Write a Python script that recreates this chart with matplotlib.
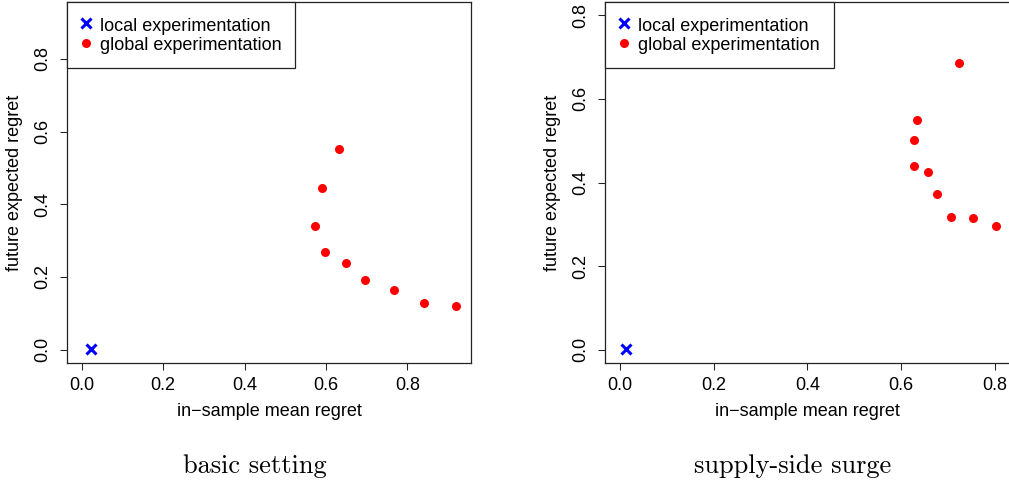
import numpy as np
import matplotlib
matplotlib.use("Agg")
import matplotlib.pyplot as plt

plt.rcParams['font.family'] = ['Liberation Sans', 'DejaVu Sans']

# basic setting
basic_local_x = [0.024]
basic_local_y = [0.003]
basic_global_x = [0.632, 0.590, 0.572, 0.598, 0.650, 0.697, 0.767, 0.840, 0.919]
basic_global_y = [0.553, 0.446, 0.341, 0.270, 0.239, 0.193, 0.165, 0.129, 0.119]

# supply-side surge
surge_local_x = [0.012]
surge_local_y = [0.002]
surge_global_x = [0.724, 0.635, 0.629, 0.627, 0.657, 0.677, 0.708, 0.754, 0.803]
surge_global_y = [0.686, 0.550, 0.502, 0.440, 0.425, 0.372, 0.317, 0.314, 0.295]

ticks = [0.0, 0.2, 0.4, 0.6, 0.8]
tick_labels = ["0.0", "0.2", "0.4", "0.6", "0.8"]

W, H = 1009, 484
fig = plt.figure(figsize=(W / 100, H / 100), dpi=100)


def panel(left_px, xmax, ymax, lx, ly, gx, gy, title, title_x):
    ax = fig.add_axes([left_px / W, 1 - 363 / H, 404.5 / W, 361 / H])
    # R-style 4% padding around [0, max]
    ax.set_xlim(-0.04 * xmax, 1.04 * xmax)
    ax.set_ylim(-0.04 * ymax, 1.04 * ymax)
    ax.plot(lx, ly, linestyle='none', marker='x', color='#0000FF',
            markersize=7, markeredgewidth=2.2, label='local experimentation')
    ax.plot(gx, gy, linestyle='none', marker='o', color='#FF0000',
            markersize=6.5, markeredgewidth=0, label='global experimentation')
    ax.set_xticks(ticks)
    ax.set_xticklabels(tick_labels)
    ax.set_yticks(ticks)
    ax.set_yticklabels(tick_labels, rotation=90, va='center')
    ax.tick_params(direction='out', length=5, width=0.75, labelsize=13, color='#222222')
    ax.tick_params(axis='x', pad=5)
    ax.tick_params(axis='y', pad=6)
    for s in ax.spines.values():
        s.set_linewidth(0.9)
        s.set_color('#222222')
    ax.set_xlabel('in\u2212sample mean regret', fontsize=13, va='center')
    ax.xaxis.set_label_coords(0.5, -0.133)
    ax.set_ylabel('future expected regret', fontsize=13, va='center')
    ax.yaxis.set_label_coords(-0.130, 0.5)
    leg = ax.legend(loc='upper left', borderaxespad=0, fancybox=False,
                    framealpha=1, edgecolor='#222222', fontsize=13,
                    handlelength=0.6, handleheight=1.2, handletextpad=0.5,
                    borderpad=0.75, labelspacing=0.0, numpoints=1)
    leg.get_frame().set_linewidth(0.9)
    fig.text(title_x / W, 1 - 466 / H, title, family=['cmr10', 'DejaVu Serif'],
             fontsize=19, ha='center', va='center')
    return ax


panel(66.7, 0.92, 0.92, basic_local_x, basic_local_y, basic_global_x, basic_global_y,
      'basic setting', 255)
panel(605, 0.80, 0.80, surge_local_x, surge_local_y, surge_global_x, surge_global_y,
      'supply-side surge', 793)

fig.savefig('out.png', dpi=100)
